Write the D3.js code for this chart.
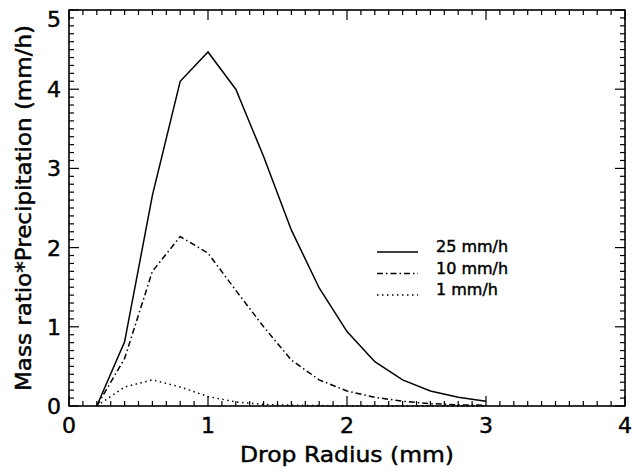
<!DOCTYPE html>
<html>
<head>
<meta charset="utf-8">
<script src="https://cdn.jsdelivr.net/npm/d3@7"></script>
<style>
  body { margin: 0; background: #fff; }
  svg text { font-family: "DejaVu Sans", "Liberation Sans", sans-serif; fill: #000; stroke: #000; stroke-width: 0.45px; }
</style>
</head>
<body>
<svg id="chart" width="632" height="475"></svg>
<script>
const radius = [0.2, 0.4, 0.6, 0.8, 1.0, 1.2, 1.4, 1.6, 1.8, 2.0, 2.2, 2.4, 2.6, 2.8, 3.0];
const rate25 = [0, 0.81, 2.66, 4.10, 4.47, 4.00, 3.15, 2.22, 1.49, 0.94, 0.56, 0.33, 0.19, 0.11, 0.06];
const rate10 = [0, 0.60, 1.70, 2.14, 1.93, 1.46, 1.00, 0.58, 0.33, 0.19, 0.11, 0.06, 0.03, 0.015, 0.01];
const rate1 = [0, 0.24, 0.33, 0.24, 0.12, 0.05, 0.02, 0.01, 0.005, 0.003, 0.002, 0.001, 0.001, 0.001, 0.001];
const seriesNames = ["25 mm/h", "10 mm/h", "1 mm/h"];
const xTicks = [0, 1, 2, 3, 4];
const yTicks = [0, 1, 2, 3, 4, 5];

const margin = { top: 10, right: 7, bottom: 69, left: 69 },
      width = 632 - margin.left - margin.right,
      height = 475 - margin.top - margin.bottom;

const svg = d3.select("#chart")
    .append("g")
    .attr("transform", `translate(${margin.left},${margin.top})`);

const x = d3.scaleLinear().domain([0, 4]).range([0, width]);
const y = d3.scaleLinear().domain([0, 5]).range([height, 0]);

const dashes = [null, "6,3,1.5,3", "1.5,3.5"];
const series = [rate25, rate10, rate1];

// minor + major ticks on all four sides
const xMinor = d3.range(0, 4.0001, 0.1);
const yMinor = d3.range(0, 5.0001, 0.1);
const tickG = svg.append("g").attr("stroke", "#000").attr("stroke-width", 1.2);
xMinor.forEach((v, i) => {
    const len = i % 10 === 0 ? 10 : 5;
    tickG.append("line").attr("x1", x(v)).attr("x2", x(v)).attr("y1", height).attr("y2", height - len);
    tickG.append("line").attr("x1", x(v)).attr("x2", x(v)).attr("y1", 0).attr("y2", len);
});
yMinor.forEach((v, i) => {
    const len = i % 10 === 0 ? 10 : 5;
    tickG.append("line").attr("y1", y(v)).attr("y2", y(v)).attr("x1", 0).attr("x2", len);
    tickG.append("line").attr("y1", y(v)).attr("y2", y(v)).attr("x1", width).attr("x2", width - len);
});

svg.append("rect")
    .attr("width", width).attr("height", height)
    .attr("fill", "none").attr("stroke", "#000").attr("stroke-width", 1.6);

svg.selectAll(".xlab").data(xTicks).enter().append("text")
    .attr("x", d => x(d)).attr("y", height + 27)
    .attr("text-anchor", "middle").style("font-size", "22px")
    .text(d => d);

svg.selectAll(".ylab").data(yTicks).enter().append("text")
    .attr("x", -8).attr("y", d => Math.max(y(d) + 8, 17))
    .attr("text-anchor", "end").style("font-size", "22px")
    .text(d => d);

svg.append("text")
    .attr("x", width / 2).attr("y", height + 56)
    .attr("text-anchor", "middle").style("font-size", "21px")
    .attr("textLength", 214).attr("lengthAdjust", "spacingAndGlyphs")
    .text("Drop Radius (mm)");

svg.append("text")
    .attr("transform", `translate(${-38},${height / 2}) rotate(-90)`)
    .attr("text-anchor", "middle").style("font-size", "21px")
    .attr("textLength", 366).attr("lengthAdjust", "spacingAndGlyphs")
    .text("Mass ratio*Precipitation (mm/h)");

const line = d3.line().x((d, i) => x(radius[i])).y(d => y(d));

series.forEach((s, k) => {
    svg.append("path")
        .datum(s)
        .attr("d", line)
        .attr("fill", "none")
        .attr("stroke", "#000")
        .attr("stroke-width", 1.5)
        .attr("stroke-dasharray", dashes[k]);
});

// legend
const legend = svg.append("g").attr("transform", `translate(${377 - margin.left},${252 - margin.top})`);
seriesNames.forEach((name, k) => {
    const ly = k * 21.5;
    legend.append("line")
        .attr("x1", 0).attr("x2", 41).attr("y1", ly).attr("y2", ly)
        .attr("stroke", "#000").attr("stroke-width", 1.5)
        .attr("stroke-dasharray", dashes[k]);
    legend.append("text")
        .attr("x", 59).attr("y", ly)
        .style("font-size", "16px")
        .text(name);
});
</script>
</body>
</html>
